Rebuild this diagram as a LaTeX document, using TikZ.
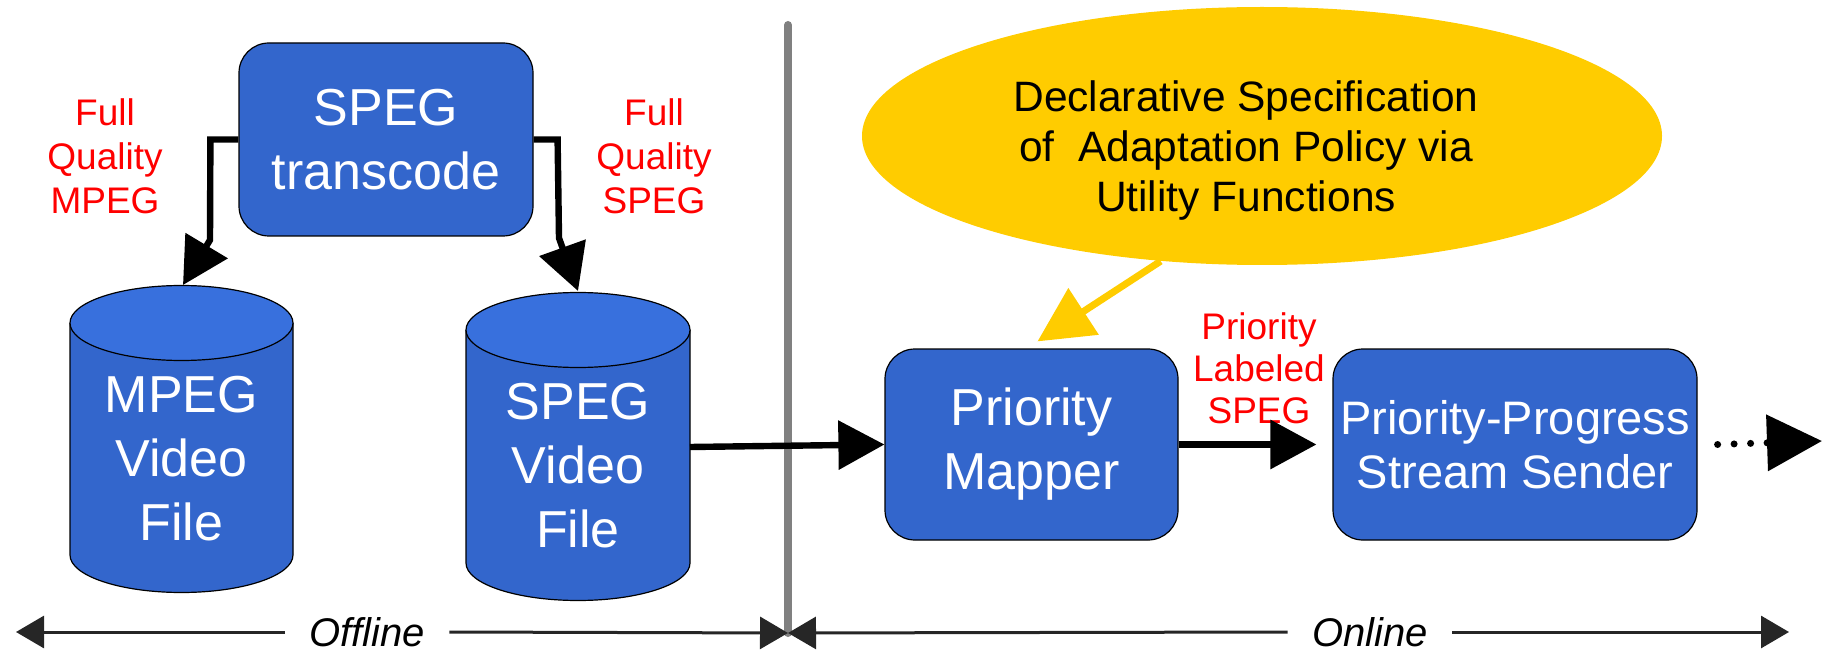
\documentclass[tikz,border=0pt]{standalone}
\usepackage{fontspec}
\setmainfont{Liberation Sans}
\usetikzlibrary{arrows.meta,shapes.geometric}
\definecolor{boxblue}{HTML}{3366CC}
\definecolor{drumtop}{HTML}{3870DD}
\definecolor{noteyellow}{HTML}{FFCC00}
\definecolor{divgray}{HTML}{808080}
% storage drum: centre x, top-ellipse y, bottom-ellipse y, x radius, y radius (y counted downward)
\newcommand\drawdrum[5]{%
  \fill[boxblue] (#1-#4,-#2) -- (#1-#4,-#3)
    arc[start angle=180,end angle=360,x radius=#4,y radius=#5] -- (#1+#4,-#2) -- cycle;
  \draw[line width=0.6pt] (#1-#4,-#2) -- (#1-#4,-#3)
    arc[start angle=180,end angle=360,x radius=#4,y radius=#5] -- (#1+#4,-#2);
  \filldraw[fill=drumtop,line width=0.6pt] (#1,-#2) ellipse[x radius=#4,y radius=#5];
}
\begin{document}
\begin{tikzpicture}[x=0.5pt,y=0.5pt,
  stagebox/.style={draw=black,line width=0.6pt,fill=boxblue,rounded corners=15pt,
    text=white,align=center,inner sep=0pt,font=\fontsize{26}{32}\selectfont},
  drumtext/.style={text=white,align=center,inner sep=0pt,font=\fontsize{26}{32}\selectfont},
  redlabel/.style={text=red,align=center,inner sep=0pt,font=\fontsize{18.5}{22}\selectfont},
  flow/.style={line width=3.2pt,-{Triangle[length=23pt,width=24pt]}},
  span/.style={line width=1.5pt,draw=black!85,-{Triangle[length=14pt,width=16pt]}},
  spantext/.style={font=\itshape\fontsize{20}{24}\selectfont,minimum width=82pt,inner sep=0pt},
]
\useasboundingbox (0,0) rectangle (1826,-652);

% offline / online divider
\coordinate (divtop) at (788,-25);
\coordinate (divbot) at (788,-633);
\draw[divgray,line width=4pt,line cap=round] (divtop) -- (divbot);

% offline stages
\node[stagebox,minimum width=147pt,minimum height=96.5pt] (transcode) at (386,-139.5)
  {SPEG\\transcode};

\drawdrum{181.5}{323}{555}{111.5}{37.5}
\drawdrum{578}{330}{563}{112}{37.5}
\node[drumtext] (mpeg) at (181.5,-459) {MPEG\\Video\\File};
\node[drumtext] (speg) at (578,-466) {SPEG\\Video\\File};
\coordinate (mpegtop) at (183,-285);
\coordinate (spegtop) at (578,-291);
\coordinate (spegout) at (690,-447);

\node[redlabel] (lblmpeg) at (105,-156) {Full\\Quality\\MPEG};
\node[redlabel] (lblspeg) at (654,-156) {Full\\Quality\\SPEG};

\draw[flow] (transcode.west) -- ++(-28,0) -- (210,-240) -- (mpegtop);
\draw[flow] (transcode.east) -- ++(24,0) -- (559,-238) -- (spegtop);

% online stages
\node[shape=ellipse,fill=noteyellow,minimum width=400pt,minimum height=129pt,inner sep=0pt]
  (spec) at (1262,-136) {};
\node[align=center,inner sep=0pt,font=\fontsize{21.25}{25}\selectfont] (spectext) at (1246,-151)
  {Declarative Specification\\of~ Adaptation Policy via\\Utility Functions};

\node[stagebox,minimum width=146.5pt,minimum height=95.5pt] (mapper) at (1031.5,-444.5)
  {Priority\\Mapper};
\node[stagebox,minimum width=182pt,minimum height=95.5pt,font=\fontsize{23.5}{27}\selectfont]
  (sender) at (1515,-444.5) {Priority-Progress\\Stream Sender};
\node[redlabel,font=\fontsize{18.5}{21}\selectfont] (lblprio) at (1259,-368)
  {Priority\\Labeled\\SPEG};

\draw[noteyellow,line width=3.5pt,-{Triangle[length=27.5pt,width=27pt]}]
  (spec.231) -- ([xshift=3pt,yshift=3.5pt]mapper.north);
\draw[flow] (spegout) -- (mapper.west);
\draw[flow,shorten >=8pt] (mapper.east) -- (sender.west);
\coordinate (streamend) at (1822,-441);
\draw[line width=3.5pt,line cap=round,dash pattern=on 0pt off 8.25pt,
  -{Triangle[length=27.5pt,width=27.5pt]}] ([xshift=10pt]sender.east) -- (streamend);

% phase spans
\coordinate (offL) at (16,-632);
\coordinate (onR) at (1789,-632);
\node[spantext] (offtxt) at (367,-632) {Offline};
\node[spantext] (ontxt) at (1370,-632) {Online};
\draw[span] (offtxt.west) -- (offL);
\draw[span] (offtxt.east) -- (divbot);
\draw[span] (ontxt.west) -- (divbot);
\draw[span] (ontxt.east) -- (onR);
\end{tikzpicture}
\end{document}
